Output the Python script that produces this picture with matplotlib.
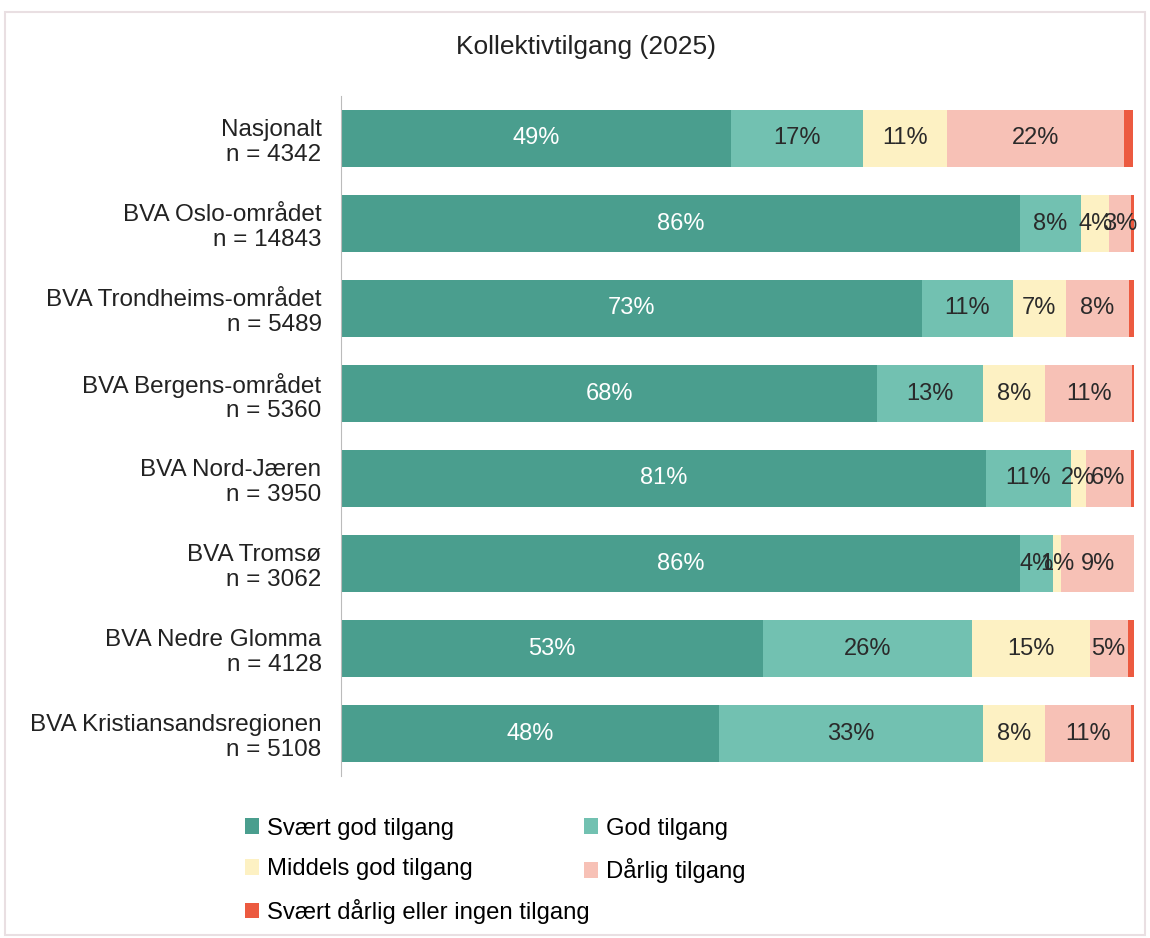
import matplotlib
matplotlib.use("Agg")
import matplotlib.pyplot as plt
from matplotlib.patches import Patch, Rectangle
import numpy as np

plt.rcParams['font.family'] = ['Liberation Sans', 'DejaVu Sans']

title = "Kollektivtilgang (2025)"
categories = ["Nasjonalt\nn = 4342", "BVA Oslo-området\nn = 14843",
              "BVA Trondheims-området\nn = 5489", "BVA Bergens-området\nn = 5360",
              "BVA Nord-Jæren\nn = 3950", "BVA Tromsø\nn = 3062",
              "BVA Nedre Glomma\nn = 4128", "BVA Kristiansandsregionen\nn = 5108"]
series_names = ["Svært god tilgang", "God tilgang", "Middels god tilgang",
                "Dårlig tilgang", "Svært dårlig eller ingen tilgang"]
svaert_god = [49.2, 85.6, 73.3, 67.6, 81.3, 85.6, 53.2, 47.7]
god = [16.6, 7.7, 11.4, 13.4, 10.8, 4.2, 26.4, 33.2]
middels = [10.6, 3.6, 6.7, 7.8, 1.8, 1.0, 14.8, 7.9]
darlig = [22.4, 2.7, 8.0, 11.0, 5.7, 9.2, 4.8, 10.8]
svaert_darlig = [1.1, 0.5, 0.6, 0.3, 0.4, 0.1, 0.8, 0.4]

colors = ["#4a9e8e", "#72c1b1", "#fdf1c3", "#f7c1b6", "#ec5a40"]
text_colors = ["white", "#2a2a2a", "#2a2a2a", "#2a2a2a", "#2a2a2a"]

fig = plt.figure(figsize=(11.5, 9.38), dpi=100)
ax = fig.add_axes([341/1150, 1-776/938, (1134-341)/1150, (776-96)/938])

data = [svaert_god, god, middels, darlig, svaert_darlig]
y = np.arange(len(categories))
left = np.zeros(len(categories))
for i, vals in enumerate(data):
    vals = np.array(vals)
    bars = ax.barh(y, vals, left=left, height=0.67, color=colors[i], label=series_names[i])
    if i < 4:
        labels = [f"{v:.0f}%" for v in vals]
        ax.bar_label(bars, labels=labels, label_type='center', color=text_colors[i], fontsize=17)
    left += vals

ax.set_ylim(len(categories) - 0.5, -0.5)
ax.set_xlim(0, 100)
ax.set_yticks(y)
ax.set_yticklabels(categories, fontsize=17.5, color="#222222", linespacing=1.15)
ax.tick_params(axis='y', length=0, pad=14)
ax.set_xticks([])
for s in ['top', 'right', 'bottom']:
    ax.spines[s].set_visible(False)
ax.spines['left'].set_color('#bbbbbb')

fig.text(0.51, 1-47/938, title, ha='center', va='center', fontsize=19, color="#222222")

handles = [Patch(facecolor=c) for c in colors]
common = dict(loc='upper left', frameon=False, fontsize=17.2, handlelength=0.62,
              handleheight=0.62, handletextpad=0.3, labelspacing=0.78, borderaxespad=0)
leg1 = fig.legend([handles[k] for k in (0, 2, 4)], [series_names[k] for k in (0, 2, 4)],
                  bbox_to_anchor=(235/1150, 1-808/938), **common)
leg2 = fig.legend([handles[k] for k in (1, 3)], [series_names[k] for k in (1, 3)],
                  bbox_to_anchor=(574/1150, 1-808/938), **common)

fig.patches.append(Rectangle((5/1150, 1-935/938), 1140/1150, 923/938,
                             transform=fig.transFigure, fill=False,
                             edgecolor='#e9dfe2', linewidth=1.5))

fig.savefig("out.png", dpi=100)
